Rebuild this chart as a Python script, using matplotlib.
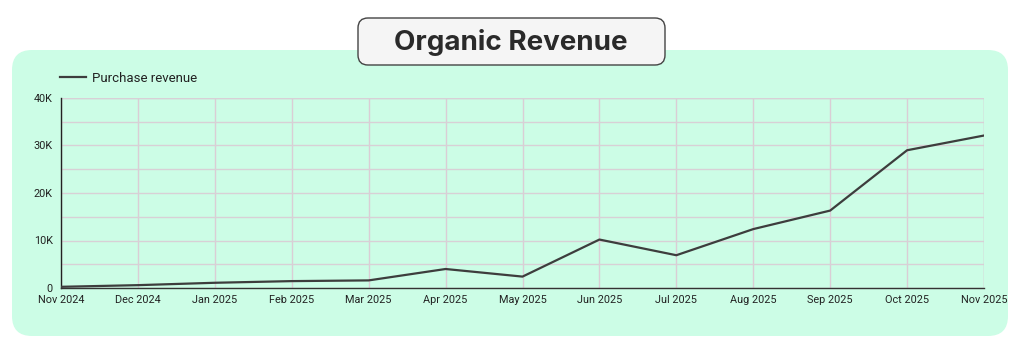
import matplotlib
matplotlib.use("Agg")
import matplotlib.pyplot as plt
from matplotlib.patches import FancyBboxPatch
from matplotlib.ticker import FuncFormatter, MultipleLocator

months = ["Nov 2024", "Dec 2024", "Jan 2025", "Feb 2025", "Mar 2025", "Apr 2025",
          "May 2025", "Jun 2025", "Jul 2025", "Aug 2025", "Sep 2025", "Oct 2025", "Nov 2025"]
revenue = [250, 600, 1100, 1450, 1600, 4000, 2400, 10200, 6900, 12400, 16300, 29000, 32100]
series_name = "Purchase revenue"
title = "Organic Revenue"

W, H = 1024, 348
fig = plt.figure(figsize=(W / 100, H / 100), dpi=100)
fig.patch.set_facecolor("white")

# background layer in pixel coordinates
bg = fig.add_axes([0, 0, 1, 1])
bg.set_xlim(0, W)
bg.set_ylim(H, 0)
bg.axis("off")
bg.add_patch(FancyBboxPatch((12, 50), 996, 286, boxstyle="round,pad=0,rounding_size=20",
                            facecolor="#CCFDE6", edgecolor="none", zorder=0))

ax = fig.add_axes([61 / W, 1 - 288 / H, (984 - 61) / W, (288 - 98) / H])
ax.set_facecolor("none")
x = list(range(len(months)))
ax.plot(x, revenue, color="#3d3d3d", lw=1.6, label=series_name, zorder=3,
        solid_joinstyle="round")
ax.set_xlim(0, len(months) - 1)
ax.set_ylim(0, 40000)
ax.set_xticks(x)
ax.set_xticklabels(months)
ax.yaxis.set_major_locator(MultipleLocator(10000))
ax.yaxis.set_minor_locator(MultipleLocator(5000))
ax.yaxis.set_major_formatter(FuncFormatter(lambda v, p: "0" if v == 0 else f"{int(v/1000)}K"))
ax.grid(True, which="both", axis="y", color="#D8D0D6", lw=1)
ax.grid(True, which="major", axis="x", color="#DACDD5", lw=1)
ax.tick_params(axis="both", which="both", length=0, labelsize=7.8, colors="#222222")
ax.tick_params(axis="x", pad=5)
ax.tick_params(axis="y", pad=6)
for lab in ax.get_xticklabels() + ax.get_yticklabels():
    lab.set_fontfamily("Roboto")
for s in ["top", "right"]:
    ax.spines[s].set_visible(False)
ax.spines["left"].set_color("#222222")
ax.spines["bottom"].set_color("#333333")
ax.spines["left"].set_linewidth(1)
ax.spines["bottom"].set_linewidth(1)
ax.axhline(40000, color="#D8D0D6", lw=1)
ax.axvline(len(months) - 1, color="#DACDD5", lw=1)

leg = fig.legend(*ax.get_legend_handles_labels(), loc="center left",
                 bbox_to_anchor=(60 / W, 1 - 78 / H), frameon=False,
                 prop={"family": "Roboto", "size": 9.5}, handlelength=2.0, handletextpad=0.45,
                 borderaxespad=0, borderpad=0)
for t in leg.get_texts():
    t.set_color("#222222")

# title box
bg.add_patch(FancyBboxPatch((358, 18), 307, 47, boxstyle="round,pad=0,rounding_size=10",
                            facecolor="#F5F5F5", edgecolor="#444444", lw=1, zorder=5))
bg.text(511, 42, title, ha="center", va="center", fontsize=20, fontweight="bold",
        family="Inter", color="#2a2a2a", zorder=6)

fig.savefig("out.png", dpi=100)
